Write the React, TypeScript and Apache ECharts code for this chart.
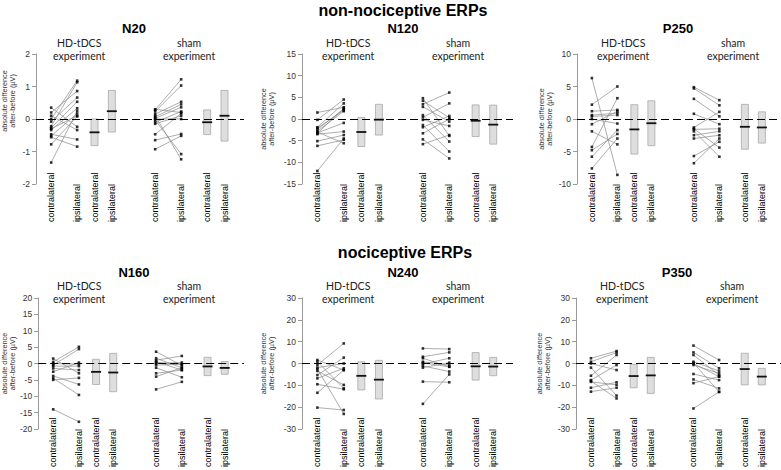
import React, { useEffect, useRef } from 'react';
import * as echarts from 'echarts';

// ---------- texts ----------
const SLOT_LABELS = ['contralateral', 'ipsilateral', 'contralateral', 'ipsilateral', 'contralateral', 'ipsilateral', 'contralateral', 'ipsilateral'];
const panelNames = ['N20', 'N120', 'P250', 'N160', 'N240', 'P350'];
const rowTitles = ['non-nociceptive ERPs', 'nociceptive ERPs'];
const groupTitles = ['HD-tDCS\nexperiment', 'sham\nexperiment'];
const yAxisTitle = 'absolute difference\nafter-before (µV)';

// ---------- y-axis tick ranges ----------
const yMin = [-2, -15, -10, -20, -30, -30];
const yMax = [2, 15, 10, 20, 30, 30];
const yStep = [1, 5, 5, 5, 10, 10];

// ---------- N20 ----------
const n20HdContra = [0.35, 0.2, 0.1, 0.0, -0.08, -0.22, -0.27, -0.34, -0.47, -0.52, -0.56, -0.78, -1.34, -0.3];
const n20HdIpsi = [-0.24, 0.86, -0.34, 1.18, 0.66, 1.13, 0.53, 0.33, -0.63, 0.17, -0.85, 0.08, 0.25, 0.1];
const n20ShamContra = [0.28, 0.23, 0.15, 0.07, 0.02, -0.03, -0.1, -0.47, -0.65, -0.93, 0.3, 0.1, 0.0, -0.15];
const n20ShamIpsi = [1.22, 1.03, 0.53, 0.45, 0.36, -1.08, 0.23, 0.17, -0.46, -0.52, 0.2, -1.24, 0.0, 0.1];
const n20Mean = [-0.41, 0.24, -0.1, 0.1];
const n20Sd = [0.41, 0.64, 0.38, 0.78];

// ---------- N120 ----------
const n120HdContra = [1.5, -0.2, -1.9, -2.4, -2.8, -3.2, -3.5, -5.1, -6.2, -12.0, -2.1, -3.0, -3.3];
const n120HdIpsi = [2.7, 4.5, 3.6, 2.3, 1.8, -0.9, -2.9, -3.7, -4.8, -4.5, 2.0, -5.6, 2.5];
const n120ShamContra = [4.8, 4.2, 3.4, 0.9, 0.4, -0.2, -1.4, -1.9, -3.3, -4.7, -5.8, 2.8];
const n120ShamIpsi = [-3.9, 0.3, 6.1, -5.2, 3.6, -1.6, -7.5, 0.7, 0.0, -9.1, -3.7, -0.6];
const n120Mean = [-3.0, -0.15, -0.4, -1.3];
const n120Sd = [3.35, 3.55, 3.65, 4.5];

// ---------- P250 ----------
const p250HdContra = [6.3, 2.2, 1.2, 0.6, 0.4, 0.0, -0.8, -1.9, -4.3, -4.8, -5.8, -7.6];
const p250HdIpsi = [-8.6, 5.0, 1.4, 0.9, 0.6, -0.7, 1.2, -3.9, 3.2, -2.3, -1.7, -3.0];
const p250ShamContra = [4.9, 4.7, 3.1, 0.8, -1.3, -1.6, -1.9, -2.5, -3.0, -5.7, -6.8, -1.5];
const p250ShamIpsi = [2.9, 2.1, 0.4, -0.8, 1.1, -1.5, -5.8, -1.9, -2.5, -3.5, -3.0, -4.4];
const p250Mean = [-1.6, -0.65, -1.2, -1.3];
const p250Sd = [3.8, 3.45, 3.45, 2.4];

// ---------- N160 ----------
const n160HdContra = [1.5, 0.5, 0.0, -0.5, -0.8, -1.5, -2.5, -3.8, -4.5, -5.0, -14.0];
const n160HdIpsi = [-3.0, 5.1, -0.2, 4.4, -0.8, -2.0, 0.3, -6.4, -9.6, -4.4, -17.8];
const n160ShamContra = [3.6, 1.6, 1.0, 0.6, 0.0, -0.5, -1.3, -3.0, -4.0, -7.9, 0.3];
const n160ShamIpsi = [-0.6, -1.3, 2.3, -2.0, 0.3, -0.2, -4.2, -2.0, -1.3, -5.6, -0.2];
const n160Mean = [-2.55, -2.75, -0.9, -1.35];
const n160Sd = [3.85, 5.85, 2.8, 1.95];

// ---------- N240 ----------
const n240HdContra = [1.6, 0.8, -0.7, -1.9, -3.4, -5.3, -6.8, -9.5, -13.4, -20.2, -2.5];
const n240HdIpsi = [-3.0, -11.4, 9.2, 0.0, -9.8, 2.7, -2.2, -11.8, -3.0, -21.3, -23.1];
const n240ShamContra = [6.9, 3.1, 2.4, 0.8, -0.2, -1.1, -1.9, -8.3, -18.5, 0.3];
const n240ShamIpsi = [6.6, 5.1, -1.5, -0.7, 2.4, -3.7, 0.4, -8.6, -5.0, -1.5];
const n240Mean = [-5.65, -7.4, -1.3, -1.4];
const n240Sd = [6.45, 8.85, 6.3, 4.2];

// ---------- P350 ----------
const p350HdContra = [2.4, 0.8, -1.9, -5.6, -7.6, -8.4, -11.1, -12.9, 0.0, -8.0];
const p350HdIpsi = [5.7, 5.0, -14.7, 3.9, -0.7, -9.8, -8.6, -11.1, -3.0, -16.0];
const p350ShamContra = [8.2, 5.1, 3.9, 0.8, 0.0, -0.7, -4.8, -7.3, -9.0, -20.6, 0.3];
const p350ShamIpsi = [1.6, -2.2, -5.3, -3.4, -6.0, -4.5, -7.6, -11.4, -6.0, -13.0, -13.0];
const p350Mean = [-5.75, -5.45, -2.55, -6.0];
const p350Sd = [5.35, 8.25, 7.25, 3.8];

const PANELS = [
  { hdC: n20HdContra, hdI: n20HdIpsi, shC: n20ShamContra, shI: n20ShamIpsi, mean: n20Mean, sd: n20Sd },
  { hdC: n120HdContra, hdI: n120HdIpsi, shC: n120ShamContra, shI: n120ShamIpsi, mean: n120Mean, sd: n120Sd },
  { hdC: p250HdContra, hdI: p250HdIpsi, shC: p250ShamContra, shI: p250ShamIpsi, mean: p250Mean, sd: p250Sd },
  { hdC: n160HdContra, hdI: n160HdIpsi, shC: n160ShamContra, shI: n160ShamIpsi, mean: n160Mean, sd: n160Sd },
  { hdC: n240HdContra, hdI: n240HdIpsi, shC: n240ShamContra, shI: n240ShamIpsi, mean: n240Mean, sd: n240Sd },
  { hdC: p350HdContra, hdI: p350HdIpsi, shC: p350ShamContra, shI: p350ShamIpsi, mean: p350Mean, sd: p350Sd },
];

// ---------- layout ----------
const SLOT_COUNT = 48;
const SLOT_INDEX = [3, 9, 13, 17, 27, 33, 39, 43];
const GRID_W = 211;
const GRID_LEFT = [33, 302, 577, 33, 302, 576];
const GRID_TOP = [54, 54, 54, 298, 298, 298];
const GRID_H = [130, 130, 130, 131, 131, 131];
const NAME_GAP = [20, 27, 24, 22, 27, 25];
const NAME_SHIFT = [18, 0, 0, 0, 0, 0];
const FONT = 'Liberation Sans, Arial, sans-serif';
const GROUP_FONT = 'Lato, Noto Sans, sans-serif';

function slotX(panel: number, slot: number) {
  return GRID_LEFT[panel] + ((slot + 0.5) * GRID_W) / SLOT_COUNT;
}

function buildOption() {
  const cats: string[] = Array(SLOT_COUNT).fill('');
  SLOT_INDEX.forEach((s, k) => (cats[s] = SLOT_LABELS[k]));
  const S = SLOT_INDEX;

  const grid: any[] = [];
  const xAxis: any[] = [];
  const yAxis: any[] = [];
  const series: any[] = [];
  const graphic: any[] = [];

  const pairRender = (params: any, api: any) => {
    const p1 = api.coord([api.value(0), api.value(1)]);
    const p2 = api.coord([api.value(2), api.value(3)]);
    return {
      type: 'line',
      shape: { x1: p1[0], y1: p1[1], x2: p2[0], y2: p2[1] },
      style: { stroke: '#8a8a8a', lineWidth: 0.7 },
    };
  };
  const barRender = (params: any, api: any) => {
    const x = api.value(0);
    const m = api.value(1);
    const sd = api.value(2);
    const top = api.coord([x, m + sd]);
    const bot = api.coord([x, m - sd]);
    const mid = api.coord([x, m]);
    return {
      type: 'group',
      children: [
        {
          type: 'rect',
          shape: { x: top[0] - 3.5, y: top[1], width: 7, height: bot[1] - top[1] },
          style: { fill: '#dedede', stroke: '#a8a8a8', lineWidth: 0.8 },
        },
        {
          type: 'line',
          shape: { x1: mid[0] - 5, y1: mid[1], x2: mid[0] + 5, y2: mid[1] },
          style: { stroke: '#111', lineWidth: 1.8 },
        },
      ],
    };
  };

  PANELS.forEach((p, i) => {
    grid.push({ left: GRID_LEFT[i], top: GRID_TOP[i], width: GRID_W, height: GRID_H[i], containLabel: false });
    xAxis.push({
      type: 'category',
      gridIndex: i,
      data: cats,
      boundaryGap: true,
      axisLine: { show: false },
      axisTick: { show: false },
      splitLine: { show: false },
      axisLabel: {
        interval: 0,
        rotate: 90,
        align: 'left',
        verticalAlign: 'middle',
        margin: 38,
        fontSize: 9,
        color: '#000',
        fontFamily: FONT,
      },
    });
    yAxis.push({
      type: 'value',
      gridIndex: i,
      min: yMin[i],
      max: yMax[i],
      interval: yStep[i],
      axisLine: { show: true, lineStyle: { color: '#9a9a9a', width: 1 } },
      axisTick: { show: true, length: 4, lineStyle: { color: '#9a9a9a' } },
      splitLine: { show: false },
      axisLabel: { fontSize: 8.5, color: '#333', margin: 6, fontFamily: FONT },
      name: yAxisTitle,
      nameLocation: 'middle',
      nameRotate: 90,
      nameGap: NAME_GAP[i],
      nameTextStyle: {
        fontSize: 7.3,
        lineHeight: 7.5,
        color: '#333',
        fontFamily: FONT,
        padding: [0, 0, 0, NAME_SHIFT[i] * 2],
      },
    });

    series.push({
      type: 'custom',
      xAxisIndex: i,
      yAxisIndex: i,
      renderItem: pairRender,
      encode: { x: [0, 2], y: [1, 3] },
      data: p.hdC.map((c, k) => [S[0], c, S[1], p.hdI[k]]),
      silent: true,
    });
    series.push({
      type: 'custom',
      xAxisIndex: i,
      yAxisIndex: i,
      renderItem: pairRender,
      encode: { x: [0, 2], y: [1, 3] },
      data: p.shC.map((c, k) => [S[4], c, S[5], p.shI[k]]),
      silent: true,
    });
    series.push({
      type: 'custom',
      xAxisIndex: i,
      yAxisIndex: i,
      renderItem: barRender,
      encode: { x: 0, y: 1 },
      data: [
        [S[2], p.mean[0], p.sd[0]],
        [S[3], p.mean[1], p.sd[1]],
        [S[6], p.mean[2], p.sd[2]],
        [S[7], p.mean[3], p.sd[3]],
      ],
      silent: true,
    });
    series.push({
      type: 'scatter',
      xAxisIndex: i,
      yAxisIndex: i,
      symbol: 'rect',
      symbolSize: 2.6,
      itemStyle: { color: '#000' },
      silent: true,
      data: [
        ...p.hdC.map((v) => [S[0], v]),
        ...p.hdI.map((v) => [S[1], v]),
        ...p.shC.map((v) => [S[4], v]),
        ...p.shI.map((v) => [S[5], v]),
      ],
      markLine: {
        silent: true,
        symbol: ['none', 'none'],
        label: { show: false },
        lineStyle: { color: '#000', type: [8, 4], width: 1.1 },
        data: [{ yAxis: 0 }],
      },
    });

    const rowTop = GRID_TOP[i];
    graphic.push({
      type: 'text',
      x: GRID_LEFT[i] + 101,
      y: rowTop - 26,
      style: {
        text: panelNames[i],
        font: `bold 13px ${FONT}`,
        fill: '#000',
        textAlign: 'center',
        textVerticalAlign: 'middle',
      },
    });
    [[S[0], S[3]], [S[4], S[7]]].forEach((pair, g) => {
      graphic.push({
        type: 'text',
        x: slotX(i, (pair[0] + pair[1]) / 2),
        y: rowTop - 4.5 - (i >= 3 ? 1.5 : 0),
        style: {
          text: groupTitles[g],
          font: `10.5px ${GROUP_FONT}`,
          lineHeight: 13,
          fill: '#222',
          textAlign: 'center',
          textVerticalAlign: 'middle',
        },
      });
    });
  });

  graphic.push({
    type: 'text',
    x: 403,
    y: 10,
    style: { text: rowTitles[0], font: `bold 16px ${FONT}`, fill: '#000', textAlign: 'center', textVerticalAlign: 'middle' },
  });
  graphic.push({
    type: 'text',
    x: 405,
    y: 252,
    style: { text: rowTitles[1], font: `bold 16px ${FONT}`, fill: '#000', textAlign: 'center', textVerticalAlign: 'middle' },
  });

  return {
    animation: false,
    backgroundColor: '#fff',
    grid,
    xAxis,
    yAxis,
    series,
    graphic,
  };
}

export default function App() {
  const ref = useRef<HTMLDivElement>(null);
  useEffect(() => {
    document.body.style.margin = '0';
    const chart = echarts.init(ref.current!, undefined, { renderer: 'svg' });
    chart.setOption(buildOption() as any);
    return () => chart.dispose();
  }, []);
  return <div ref={ref} style={{ width: 781, height: 470 }} />;
}
